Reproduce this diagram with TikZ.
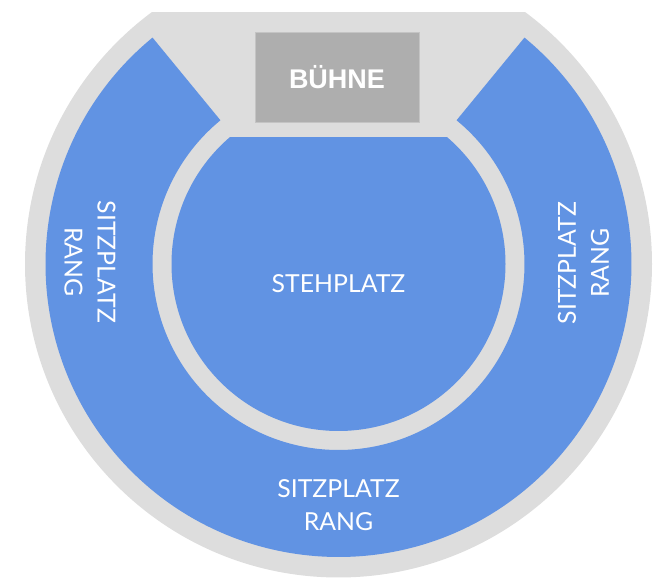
\documentclass[tikz,border=0pt]{standalone}
\usepackage{fontspec}
\newfontfamily\labfont{Lato}
\newfontfamily\stagefont{Liberation Sans}
\definecolor{bggray}{RGB}{221,221,221}
\definecolor{seatblue}{RGB}{97,147,227}
\definecolor{stagegray}{RGB}{174,174,174}
\tikzset{
  lab/.style={text=white, font=\labfont\fontsize{24.8}{33}\selectfont, align=center, inner sep=0pt},
}
\begin{document}
\begin{tikzpicture}[x=1pt,y=1pt]
\useasboundingbox (0,0) rectangle (670,583);
\begin{scope}[shift={(338.5,319)}]
  % outer gray venue
  \begin{scope}
    \clip (-400,-400) rectangle (400,251);
    \fill[bggray] (0,0) circle (313.5);
  \end{scope}
  % seating ring
  \fill[seatblue] (129.4:293) arc[start angle=129.4,end angle=410.6,radius=293]
     -- (50.6:186) arc[start angle=50.6,end angle=-230.6,radius=186] -- cycle;
  % standing area
  \begin{scope}
    \clip (-200,-200) rectangle (200,126);
    \fill[seatblue] (0,0) circle (167);
  \end{scope}
  % stage
  \node[fill=stagegray, draw={rgb,255:red,196;green,196;blue,196}, line width=0.8pt,
        minimum width=164, minimum height=90, inner sep=0pt,
        text=white, font=\stagefont\bfseries\fontsize{27}{30}\selectfont]
        (stage) at (-1.5,187) {BÜHNE};
  % labels
  \node[lab] (steh) at (0,-20) {STEHPLATZ};
  \node[lab] (bottom) at (0,-241) {SITZPLATZ\\RANG};
  \node[lab, rotate=-90] (left) at (-248.5,2) {SITZPLATZ\\RANG};
  \node[lab, rotate=90] (right) at (245,1) {SITZPLATZ\\RANG};
\end{scope}
\end{tikzpicture}
\end{document}
